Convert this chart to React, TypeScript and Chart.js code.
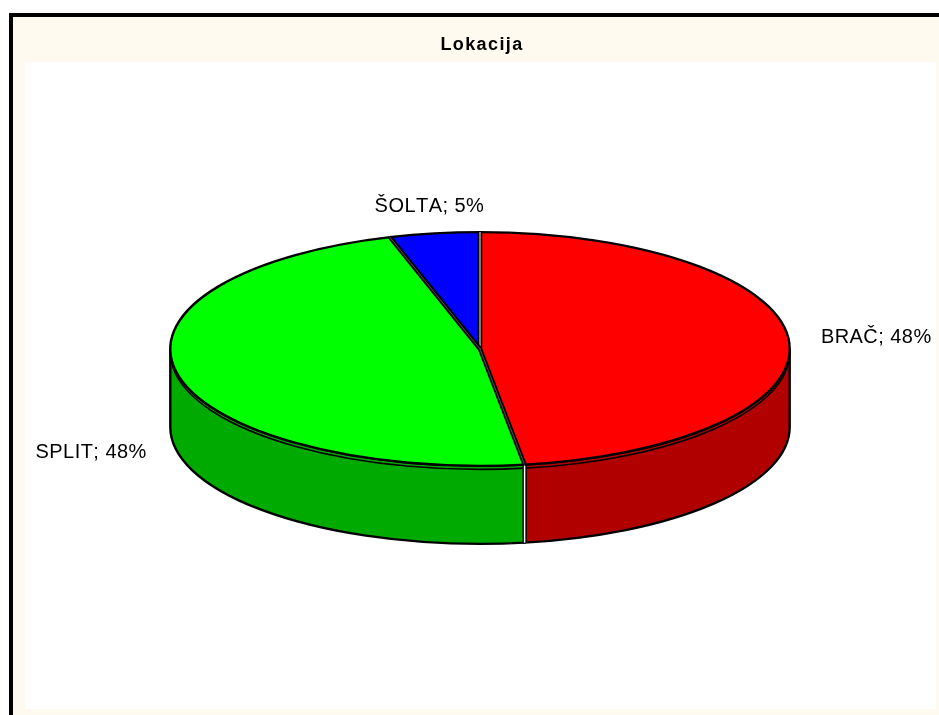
import React, { useEffect, useRef } from "react";
import { Chart, registerables } from "chart.js";

Chart.register(...registerables);

const categories = ["BRAČ", "SPLIT", "ŠOLTA"];
const values = [47.7, 47.6, 4.7];
const topColors = ["#FF0000", "#00FF00", "#0000FF"];
const wallColors = ["#B00000", "#00AA00", "#0000B0"];
const chartTitle = "Lokacija";

const TILT = 117 / 310;
const DEPTH = 78;
const CENTER_Y = 349;
const TITLE_NUDGE = 2;
const LABEL_FONT = '20px "Liberation Sans", Arial, sans-serif';

const pie3d = {
  id: "pie3d",
  beforeDraw(chart: any) {
    chart.ctx.letterSpacing = "1.4px";
  },
  beforeDatasetsDraw(chart: any) {
    const ctx = chart.ctx;
    ctx.letterSpacing = "0px";
    const arcs = chart.getDatasetMeta(0).data;
    ctx.save();
    ctx.translate(-TITLE_NUDGE, 0);
    arcs.forEach((arc: any, i: number) => {
      const a1 = Math.max(arc.startAngle, 0);
      const a2 = Math.min(arc.endAngle, Math.PI);
      if (a2 <= a1) return;
      const rx = arc.outerRadius;
      const ry = rx * TILT;
      ctx.beginPath();
      ctx.ellipse(arc.x, CENTER_Y, rx, ry, 0, a1, a2);
      ctx.ellipse(arc.x, CENTER_Y + DEPTH, rx, ry, 0, a2, a1, true);
      ctx.closePath();
      ctx.fillStyle = wallColors[i];
      ctx.fill();
      ctx.strokeStyle = "#000";
      ctx.lineWidth = 2.4;
      ctx.stroke();
      // thin rim line just below the top face
      ctx.beginPath();
      ctx.ellipse(arc.x, CENTER_Y + 3.5, rx, ry, 0, a1, a2);
      ctx.lineWidth = 1.6;
      ctx.stroke();
    });
    // seam between wall segments
    arcs.forEach((arc: any) => {
      const a = arc.startAngle;
      if (a <= 0 || a >= Math.PI) return;
      const rx = arc.outerRadius;
      const x = arc.x + rx * Math.cos(a);
      const y = CENTER_Y + rx * TILT * Math.sin(a);
      ctx.beginPath();
      ctx.moveTo(x, y);
      ctx.lineTo(x, y + DEPTH);
      ctx.strokeStyle = "#000";
      ctx.lineWidth = 4.4;
      ctx.stroke();
      ctx.strokeStyle = "#fff";
      ctx.lineWidth = 1.5;
      ctx.stroke();
    });
    ctx.restore();
    const first = arcs[0];
    ctx.save();
    ctx.translate(first.x - TITLE_NUDGE, CENTER_Y);
    ctx.scale(1, TILT);
    ctx.translate(-first.x, -first.y);
  },
  afterDatasetsDraw(chart: any) {
    const ctx = chart.ctx;
    ctx.restore();
    const arcs = chart.getDatasetMeta(0).data;
    const total = values.reduce((a, b) => a + b, 0);
    ctx.save();
    ctx.translate(-TITLE_NUDGE, 0);
    arcs.forEach((arc: any) => {
      const rx = arc.outerRadius;
      const ry = rx * TILT;
      ctx.beginPath();
      ctx.ellipse(arc.x, CENTER_Y, rx, ry, 0, arc.startAngle, arc.endAngle);
      ctx.strokeStyle = "#000";
      ctx.lineWidth = 2.4;
      ctx.stroke();
    });
    arcs.forEach((arc: any, i: number) => {
      const rx = arc.outerRadius;
      const ry = rx * TILT;
      const a = arc.startAngle;
      ctx.beginPath();
      ctx.moveTo(arc.x, CENTER_Y);
      ctx.lineTo(arc.x + rx * Math.cos(a), CENTER_Y + ry * Math.sin(a));
      ctx.strokeStyle = "#000";
      ctx.lineWidth = 4.4;
      ctx.stroke();
      ctx.strokeStyle = "rgba(255,255,255,0.8)";
      ctx.lineWidth = i === 0 ? 1.2 : 0.4;
      ctx.stroke();
    });
    ctx.font = LABEL_FONT;
    ctx.fontKerning = "none";
    ctx.letterSpacing = "0.45px";
    ctx.fillStyle = "#000";
    ctx.textBaseline = "middle";
    arcs.forEach((arc: any, i: number) => {
      const mid = (arc.startAngle + arc.endAngle) / 2;
      const cos = Math.cos(mid);
      const sin = Math.sin(mid);
      let x = arc.x + arc.outerRadius * cos;
      let y = CENTER_Y + arc.outerRadius * TILT * sin;
      if (Math.abs(cos) > 0.7) {
        ctx.textAlign = cos > 0 ? "left" : "right";
        x += cos > 0 ? 32 : -31;
        y += sin > 0 ? DEPTH : -3;
      } else {
        ctx.textAlign = "center";
        x -= 5;
        y -= 27;
      }
      const pct = Math.round((values[i] / total) * 100);
      ctx.fillText(`${categories[i]}; ${pct}%`, x, y);
    });
    ctx.restore();
  },
};

export default function App() {
  const ref = useRef<HTMLCanvasElement>(null);
  useEffect(() => {
    const chart = new Chart(ref.current!, {
      type: "pie",
      data: {
        labels: categories,
        datasets: [{ data: values, backgroundColor: topColors, borderWidth: 0 }],
      },
      options: {
        responsive: false,
        animation: false,
        layout: { padding: { left: 172, right: 147, top: 0, bottom: 40 } },
        plugins: {
          legend: { display: false },
          tooltip: { enabled: false },
          title: {
            display: true,
            text: chartTitle,
            color: "#000",
            font: { family: '"Liberation Sans", Arial, sans-serif', size: 18, weight: "bold" },
            padding: { top: 34, bottom: 0 },
          },
        },
      },
      plugins: [pie3d],
    } as any);
    return () => chart.destroy();
  }, []);

  return (
    <div style={{ position: "fixed", left: 0, top: 0, width: 939, height: 715, overflow: "hidden", background: "#fff" }}>
      <div style={{ position: "absolute", left: 9, top: 13, right: 0, bottom: 0, borderLeft: "4px solid #000", borderTop: "4px solid #000", background: "#FFFAF0" }} />
      <div style={{ position: "absolute", left: 25, top: 62, width: 911, height: 647, background: "#fff" }} />
      <canvas ref={ref} width={939} height={715} style={{ position: "absolute", left: 0, top: 0, display: "block" }} />
    </div>
  );
}
